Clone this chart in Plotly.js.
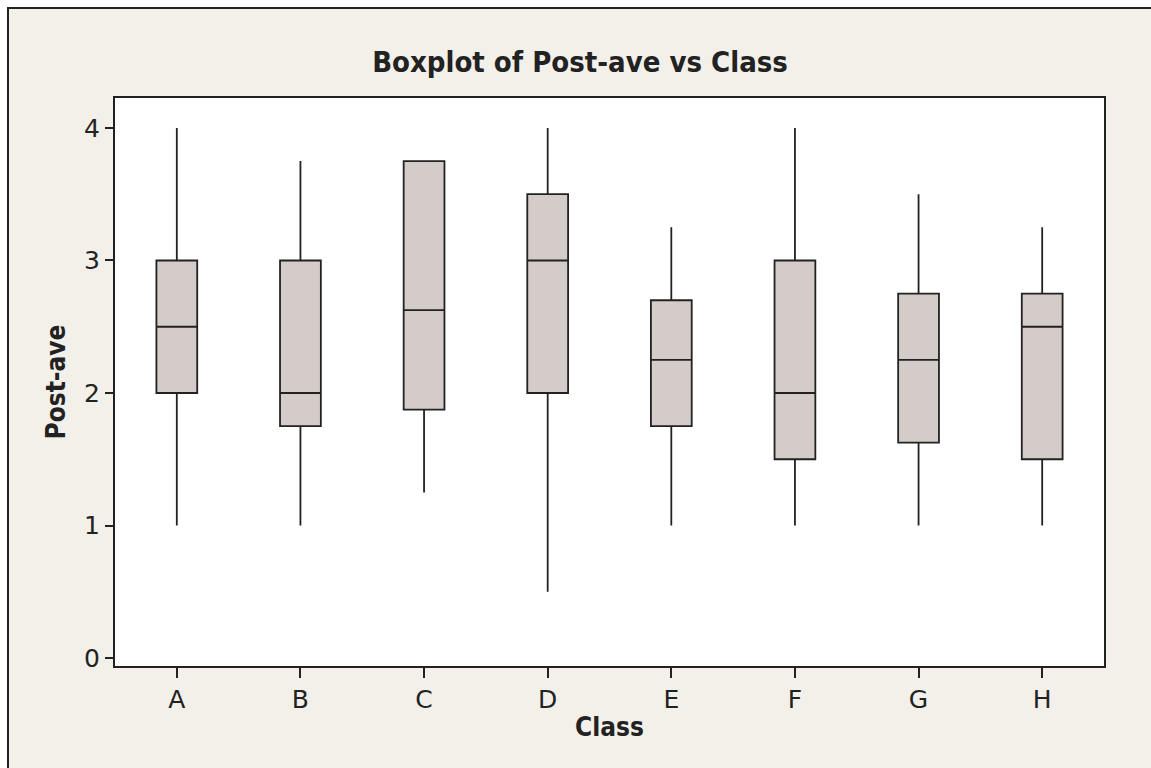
<!DOCTYPE html>
<html>
<head>
<meta charset="utf-8">
<script src="https://cdn.plot.ly/plotly-3.0.1.min.js"></script>
<style>
  html, body { margin: 0; padding: 0; background: #ffffff; width: 1151px; height: 768px; overflow: hidden; }
  #chart { position: absolute; left: 7px; top: 7px; width: 1142px; height: 759px;
           border-left: 2px solid #222; border-top: 2px solid #222; background: #f3f0ea; }
</style>
</head>
<body>
<div id="chart"></div>
<script>
var classes   = ["A", "B", "C", "D", "E", "F", "G", "H"];
var minVals   = [1.0, 1.0, 1.25, 0.5, 1.0, 1.0, 1.0, 1.0];
var q1Vals    = [2.0, 1.75, 1.875, 2.0, 1.75, 1.5, 1.625, 1.5];
var medVals   = [2.5, 2.0, 2.625, 3.0, 2.25, 2.0, 2.25, 2.5];
var q3Vals    = [3.0, 3.0, 3.75, 3.5, 2.7, 3.0, 2.75, 2.75];
var maxVals   = [4.0, 3.75, 3.75, 4.0, 3.25, 4.0, 3.5, 3.25];
var yTicks    = [0, 1, 2, 3, 4];

var trace = {
  type: "box",
  x: classes,
  q1: q1Vals,
  median: medVals,
  q3: q3Vals,
  lowerfence: minVals,
  upperfence: maxVals,
  boxpoints: false,
  width: 0.33,
  whiskerwidth: 0,
  fillcolor: "#d4ccc9",
  line: { color: "#222222", width: 1.8 },
  hoverinfo: "skip",
  showlegend: false
};

var layout = {
  width: 1142,
  height: 759,
  paper_bgcolor: "#f3f0ea",
  plot_bgcolor: "#ffffff",
  margin: { l: 106, r: 47, t: 89, b: 102 },
  font: { family: "DejaVu Sans, Verdana, sans-serif", color: "#222222" },
  title: {
    text: "<b>Boxplot of Post-ave vs Class</b>",
    font: { family: "DejaVu Sans Condensed, DejaVu Sans, sans-serif", size: 29, color: "#222222" },
    x: 0.5, xanchor: "center", xref: "container",
    y: 1 - 53 / 759, yanchor: "middle", yref: "container"
  },
  xaxis: {
    type: "category",
    range: [-0.5, 7.5],
    showline: true, mirror: true, linecolor: "#222222", linewidth: 2,
    ticks: "outside", ticklen: 10, tickwidth: 2, tickcolor: "#222222",
    showgrid: false, zeroline: false,
    tickfont: { size: 25, color: "#222222" },
    title: { text: "<b>Class</b>", font: { family: "DejaVu Sans Condensed, DejaVu Sans, sans-serif", size: 26, color: "#222222" }, standoff: 5 }
  },
  yaxis: {
    range: [-0.06, 4.226],
    tickvals: yTicks,
    showline: true, mirror: true, linecolor: "#222222", linewidth: 2,
    ticks: "outside", ticklen: 8, tickwidth: 2, tickcolor: "#222222",
    showgrid: false, zeroline: false,
    tickfont: { size: 25, color: "#222222" },
    title: { text: "<b>Post-ave</b>", font: { family: "DejaVu Sans Condensed, DejaVu Sans, sans-serif", size: 26, color: "#222222" }, standoff: 11 }
  }
};

Plotly.newPlot("chart", [trace], layout, { staticPlot: true, displayModeBar: false });
</script>
</body>
</html>
